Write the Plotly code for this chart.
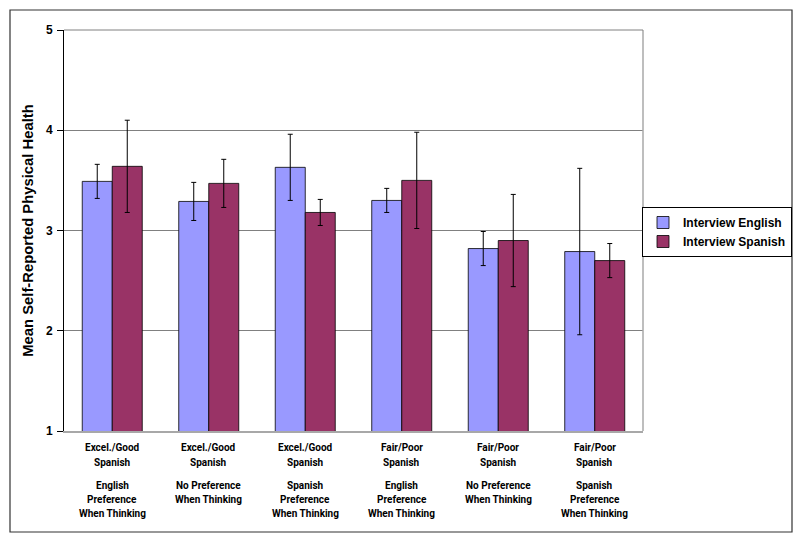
import plotly.graph_objects as go

categories = ["c1", "c2", "c3", "c4", "c5", "c6"]
label_top = ["Excel./Good<br>Spanish", "Excel./Good<br>Spanish", "Excel./Good<br>Spanish",
             "Fair/Poor<br>Spanish", "Fair/Poor<br>Spanish", "Fair/Poor<br>Spanish"]
label_bottom = ["English<br>Preference<br>When Thinking", "No Preference<br>When Thinking",
                "Spanish<br>Preference<br>When Thinking", "English<br>Preference<br>When Thinking",
                "No Preference<br>When Thinking", "Spanish<br>Preference<br>When Thinking"]
english = [3.49, 3.29, 3.63, 3.30, 2.82, 2.79]
english_err = [0.17, 0.19, 0.33, 0.12, 0.17, 0.83]
spanish = [3.64, 3.47, 3.18, 3.50, 2.90, 2.70]
spanish_err = [0.46, 0.24, 0.13, 0.48, 0.46, 0.17]
y_ticks = [1, 2, 3, 4, 5]

W, H = 800, 539
L, R, T, B = 64, 643, 30, 431

def px(x):
    return (x - L) / (R - L)

def py(y):
    return (B - y) / (B - T)

err_style = dict(type="data", color="#000000", thickness=1, width=2.5, visible=True)

fig = go.Figure()
fig.add_trace(go.Bar(
    x=categories, y=english, name="Interview English",
    marker=dict(color="#9999FF", line=dict(color="#000000", width=0.8)),
    error_y=dict(array=english_err, **err_style),
))
fig.add_trace(go.Bar(
    x=categories, y=spanish, name="Interview Spanish",
    marker=dict(color="#993366", line=dict(color="#000000", width=0.8)),
    error_y=dict(array=spanish_err, **err_style),
))

label_font = dict(family="Roboto, Liberation Sans, Arial", size=10, color="#000000", weight="bold")
annotations = []
top_rows = [448, 462]
bottom_rows = [485, 499, 513]
for c, top, bot in zip(categories, label_top, label_bottom):
    for line, yy in zip(top.split("<br>"), top_rows):
        annotations.append(dict(x=c, y=py(yy), xref="x", yref="paper", text=line, showarrow=False,
                                yanchor="middle", xanchor="center", font=label_font))
    for line, yy in zip(bot.split("<br>"), bottom_rows):
        annotations.append(dict(x=c, y=py(yy), xref="x", yref="paper", text=line, showarrow=False,
                                yanchor="middle", xanchor="center", font=label_font))

shapes = [
    # outer chart frame
    dict(type="rect", xref="paper", yref="paper", x0=px(10), x1=px(792), y0=py(532), y1=py(10),
         line=dict(color="#333333", width=1.2), layer="below"),
    # plot area right border
    dict(type="line", xref="paper", yref="paper", x0=1, x1=1, y0=0, y1=1,
         line=dict(color="#A8A8A8", width=1.5)),
    # plot area top border
    dict(type="line", xref="paper", yref="paper", x0=0, x1=1, y0=1, y1=1,
         line=dict(color="#808080", width=1)),
]

fig.update_layout(
    width=W, height=H,
    margin=dict(l=L, r=W - R, t=T, b=H - B, pad=0, autoexpand=False),
    paper_bgcolor="white", plot_bgcolor="white",
    barmode="group", bargap=0.378, bargroupgap=0,
    font=dict(family="Liberation Sans, Arial", color="#000000"),
    xaxis=dict(showticklabels=False, showgrid=False, showline=True, linecolor="#A8A8A8",
               linewidth=1.5, ticks="", automargin=False),
    yaxis=dict(range=[1, 5], tickvals=y_ticks, ticktext=[str(v) for v in y_ticks],
               showgrid=True, gridcolor="#808080", gridwidth=1,
               showline=True, linecolor="#000000", linewidth=1,
               ticks="outside", ticklen=6, tickcolor="#000000", ticklabelstandoff=2,
               tickfont=dict(size=12, family="Liberation Sans, Arial", weight="bold"),
               title=dict(text="Mean Self-Reported Physical Health", standoff=8,
                          font=dict(size=14.8, family="Liberation Sans, Arial", weight="bold")),
               zeroline=False, automargin=False),
    legend=dict(x=px(642), y=py(207), xanchor="left", yanchor="top",
                bordercolor="#000000", borderwidth=1, bgcolor="white",
                font=dict(size=12, family="Liberation Sans, Arial", weight="bold"),
                itemwidth=30, tracegroupgap=0),
    annotations=annotations,
    shapes=shapes,
)

fig.write_html("out.html", config={"displayModeBar": False},
               post_script="document.body.style.margin='0px';document.body.style.padding='0px';")
